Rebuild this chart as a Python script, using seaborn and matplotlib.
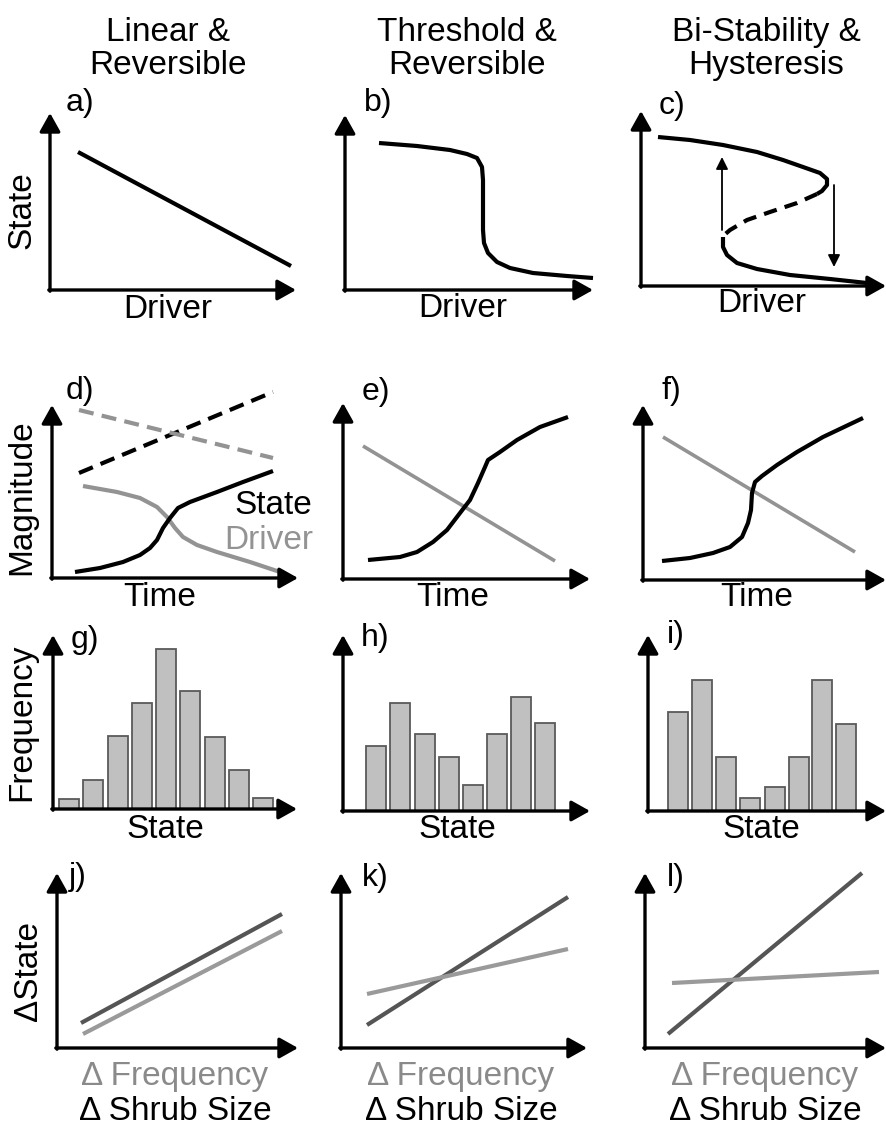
import matplotlib
matplotlib.use("Agg")
import matplotlib.pyplot as plt
import seaborn as sns

FIG_W, FIG_H = 886, 1132

sns.set_theme(style="white")
plt.rcParams["font.family"] = ["Liberation Sans", "DejaVu Sans"]

BLACK = "#000000"
GREY = "#939393"
DARK = "#555555"
LIGHT = "#9a9a9a"
BAR_FILL = "#c0c0c0"
BAR_EDGE = "#5a5a5a"

# ---------------- data (units measured from each panel's origin) ----------------
# a) linear response of state to driver
lin_driver = [28, 241]
lin_state = [138, 24]

# b) threshold response
thr_driver = [34, 72, 105, 122, 132, 137, 138, 138, 139, 143, 152, 165, 188, 222, 248]
thr_state = [147, 144, 140, 136, 132, 123, 110, 60, 47, 37, 28, 22, 17, 14, 12]

# c) fold: upper stable, unstable (dashed), lower stable branches
up_driver = [17, 49, 82, 116, 142, 162, 179, 186, 186, 181, 176]
up_state = [149, 146, 141, 134, 126, 119, 113, 107, 101, 95, 92]
mid_driver = [176, 156, 129, 106, 89, 82]
mid_state = [92, 83, 74, 66, 56, 50]
low_driver = [82, 82, 86, 96, 116, 149, 189, 226]
low_state = [49, 39, 31, 23, 17, 11, 7, 3]
jump_up = [56, 129]     # state range of the upward jump
jump_up_at = 81
jump_down = [101, 19]   # state range of the downward jump
jump_down_at = 193

# d) magnitude over time
d_time_dash = [27, 221]
d_state_trend = [105, 186]
d_driver_trend = [168, 120]
d_drv_time = [31, 65, 88, 105, 115, 123, 131, 145, 165, 198, 228]
d_drv_mag = [92, 86, 80, 71, 61, 50, 41, 33, 26, 16, 6]
d_st_time = [23, 48, 71, 88, 98, 105, 111, 118, 126, 138, 165, 191, 221]
d_st_mag = [6, 10, 16, 23, 30, 38, 50, 60, 70, 76, 86, 96, 107]

# e) threshold over time
e_drv_time = [20, 212]
e_drv_mag = [133, 18]
e_st_time = [25, 57, 74, 90, 104, 117, 127, 135, 142, 145, 157, 174, 197, 225]
e_st_mag = [19, 22, 27, 37, 49, 66, 79, 96, 112, 119, 127, 139, 152, 162]

# f) bistable over time
f_drv_time = [20, 212]
f_drv_mag = [143, 28]
f_st_time = [19, 47, 70, 87, 99, 105, 108, 109, 112, 119, 134, 154, 180, 220]
f_st_mag = [19, 22, 27, 33, 43, 57, 70, 87, 98, 104, 115, 128, 143, 162]

# g-i) state histograms
g_bins = [16, 40, 65, 89, 113, 137, 162, 186, 210]
g_freq = [10, 29, 73, 106, 160, 118, 72, 39, 11]
h_bins = [33, 57, 82, 106, 130, 154, 178, 202]
h_freq = [65, 108, 77, 54, 26, 77, 114, 88]
i_bins = [30, 54, 78, 102, 127, 151, 174, 198]
i_freq = [99, 131, 54, 13, 24, 54, 131, 87]

# j-l) change in state vs change in frequency / shrub size
j_x = [24, 225]
j_size = [25, 134]
j_x2 = [26, 225]
j_freq = [14, 117]
k_x = [26, 227]
k_size = [23, 151]
k_freq = [54, 99]
l_x = [23, 217]
l_size = [14, 175]
l_x2 = [27, 234]
l_freq = [65, 76]

# panel geometry: origin (px) and axis lengths (px)
panels = {
    "a": (50, 290, 246, 177), "b": (345, 290, 248, 175), "c": (641, 286, 245, 175),
    "d": (52, 578, 246, 173), "e": (343, 579, 247, 176), "f": (643, 580, 243, 175),
    "g": (53, 809, 244, 174), "h": (343, 811, 247, 176), "i": (648, 811, 238, 176),
    "j": (57, 1048, 241, 175), "k": (341, 1048, 246, 175), "l": (645, 1048, 241, 175),
}

fig = plt.figure(figsize=(FIG_W / 100, FIG_H / 100), dpi=100)
fig.patch.set_facecolor("white")


def make_axes(key):
    ox, oy, w, h = panels[key]
    ax = fig.add_axes([ox / FIG_W, 1 - oy / FIG_H, w / FIG_W, h / FIG_H])
    ax.set_xlim(0, w)
    ax.set_ylim(0, h)
    ax.set_axis_off()
    return ax, w, h


def draw_axes_arrows(ax, w, h):
    style = "-|>,head_length=0.75,head_width=0.42"
    kw = dict(arrowstyle=style, lw=2.4, color=BLACK, shrinkA=0, shrinkB=0,
              mutation_scale=15)
    ax.annotate("", xy=(w, 0), xytext=(-1.2, 0), arrowprops=kw,
                annotation_clip=False, zorder=10)
    ax.annotate("", xy=(0, h), xytext=(0, -1.2), arrowprops=kw,
                annotation_clip=False, zorder=10)


def line(ax, x, y, color=BLACK, lw=3.0, ls="-"):
    sns.lineplot(x=x, y=y, sort=False, estimator=None, color=color, lw=lw,
                 linestyle=ls, ax=ax, legend=False)
    for ln in ax.lines:
        ln.set_clip_on(False)
        ln.set_solid_capstyle("butt")
        ln.set_dash_capstyle("butt")
        ln.set_solid_joinstyle("round")


def bars(ax, centers, heights):
    sns.barplot(x=centers, y=heights, native_scale=True, width=0.87,
                color=BAR_FILL, saturation=1, edgecolor=BAR_EDGE, linewidth=1.3,
                errorbar=None, ax=ax)


def txt(x, y, s, size=24, color=BLACK, **kw):
    kw.setdefault("ha", "center")
    kw.setdefault("va", "center")
    fig.text(x / FIG_W, 1 - y / FIG_H, s, fontsize=size, color=color, **kw)


# ---- row 1 ----
ax, w, h = make_axes("a")
line(ax, lin_driver, lin_state)
draw_axes_arrows(ax, w, h)

ax, w, h = make_axes("b")
line(ax, thr_driver, thr_state)
draw_axes_arrows(ax, w, h)

ax, w, h = make_axes("c")
line(ax, up_driver, up_state)
line(ax, mid_driver, mid_state, ls=(0, (3.2, 2.0)))
line(ax, low_driver, low_state)
jkw = dict(arrowstyle="-|>,head_length=0.6,head_width=0.3", lw=1.3, color=BLACK,
           shrinkA=0, shrinkB=0, mutation_scale=12)
ax.annotate("", xy=(jump_up_at, jump_up[1]), xytext=(jump_up_at, jump_up[0]),
            arrowprops=jkw, annotation_clip=False)
ax.annotate("", xy=(jump_down_at, jump_down[1]), xytext=(jump_down_at, jump_down[0]),
            arrowprops=jkw, annotation_clip=False)
draw_axes_arrows(ax, w, h)

# ---- row 2 ----
ax, w, h = make_axes("d")
line(ax, d_time_dash, d_state_trend, ls=(0, (3.6, 2.0)))
line(ax, d_time_dash, d_driver_trend, color=GREY, ls=(0, (3.6, 2.0)))
line(ax, d_drv_time, d_drv_mag, color=GREY)
line(ax, d_st_time, d_st_mag)
draw_axes_arrows(ax, w, h)

ax, w, h = make_axes("e")
line(ax, e_drv_time, e_drv_mag, color=GREY, lw=2.6)
line(ax, e_st_time, e_st_mag)
draw_axes_arrows(ax, w, h)

ax, w, h = make_axes("f")
line(ax, f_drv_time, f_drv_mag, color=GREY, lw=2.6)
line(ax, f_st_time, f_st_mag)
draw_axes_arrows(ax, w, h)

# ---- row 3 ----
for key, centers, heights in (("g", g_bins, g_freq), ("h", h_bins, h_freq),
                              ("i", i_bins, i_freq)):
    ax, w, h = make_axes(key)
    bars(ax, centers, heights)
    ax.set_xlim(0, w)
    ax.set_ylim(0, h)
    ax.set_axis_off()
    draw_axes_arrows(ax, w, h)

# ---- row 4 ----
ax, w, h = make_axes("j")
line(ax, j_x, j_size, color=DARK)
line(ax, j_x2, j_freq, color=LIGHT)
draw_axes_arrows(ax, w, h)

ax, w, h = make_axes("k")
line(ax, k_x, k_size, color=DARK)
line(ax, k_x, k_freq, color=LIGHT)
draw_axes_arrows(ax, w, h)

ax, w, h = make_axes("l")
line(ax, l_x, l_size, color=DARK)
line(ax, l_x2, l_freq, color=LIGHT)
draw_axes_arrows(ax, w, h)

# ---- column titles ----
txt(168, 49, "Linear &\nReversible", linespacing=1.05)
txt(467, 49, "Threshold &\nReversible", linespacing=1.05)
txt(766, 49, "Bi-Stability &\nHysteresis", linespacing=1.05)

# ---- panel letters ----
letters = {"a": (66, 103), "b": (364, 103), "c": (659, 106),
           "d": (66, 391), "e": (362, 392), "f": (661, 391),
           "g": (71, 640), "h": (361, 638), "i": (667, 635),
           "j": (69, 877), "k": (362, 878), "l": (667, 878)}
for k, (x, y) in letters.items():
    txt(x, y, k + ")", size=23, ha="left")

# ---- axis labels ----
txt(168, 310, "Driver")
txt(463, 309, "Driver")
txt(762, 304, "Driver")
txt(22, 210, "State", rotation=90)

txt(160, 597, "Time")
txt(453, 597, "Time")
txt(757, 597, "Time")
txt(22, 497, "Magnitude", rotation=90)
txt(312, 505, "State", ha="right")
txt(313, 540, "Driver", color=GREY, ha="right")

txt(165, 829, "State")
txt(457, 829, "State")
txt(761, 829, "State")
txt(22, 722, "Frequency", rotation=90)

txt(28, 971, "\u0394State", rotation=90)
for cx in (175, 461, 765):
    txt(cx, 1077, "\u0394 Frequency", color="#8a8a8a")
    txt(cx, 1112, "\u0394 Shrub Size")

fig.savefig("out.png", dpi=100, facecolor="white")
